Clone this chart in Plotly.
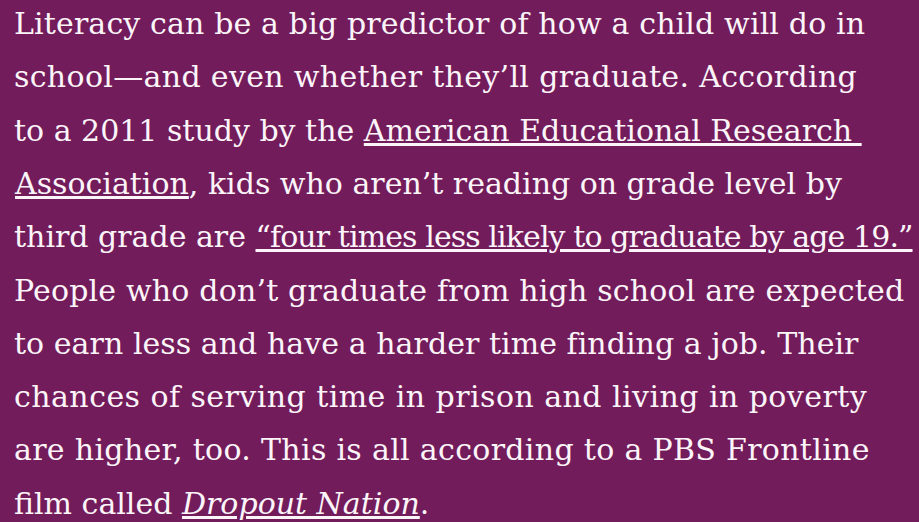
import plotly.graph_objects as go

# Paragraph text, one entry per rendered line
lines = [
    "Literacy can be a big predictor of how a child will do in",
    "school—and even whether they’ll graduate. According",
    "to a 2011 study by the <u>American Educational Research </u>",
    "<u>Association</u>, kids who aren’t reading on grade level by",
    "third grade are <span style=\"letter-spacing:-0.9px\"><u>“four times less likely to graduate by age 19.”</u></span>",
    "People who don’t graduate from high school are expected",
    "to earn less and have a harder time finding a job. Their",
    "chances of serving time in prison and living in poverty",
    "are higher, too. This is all according to a PBS Frontline",
    "film called <u><i>Dropout Nation</i></u>.",
]
# per-line tracking (px) so that line lengths follow the original typeface
line_tracking = [0.14, 0.33, 0, 0, 0, 0.18, 0.05, 0.45, 0.32, 0]

W, H = 919, 522
BG = "#731C5B"
FONT = "DejaVu Serif"
SIZE = 30
first_baseline = 42
line_step = 53.3
left = 13

fig = go.Figure()
annotations = []
for i, txt in enumerate(lines):
    baseline = first_baseline + i * line_step
    if line_tracking[i]:
        txt = '<span style="letter-spacing:%.2fpx">%s</span>' % (line_tracking[i], txt)
    annotations.append(dict(
        x=left, y=baseline, xref="x", yref="y",
        text=txt, showarrow=False,
        xanchor="left", yanchor="bottom",
        font=dict(family=FONT, size=SIZE, color="#FBF5F9"),
        borderpad=0,
    ))

fig.update_layout(
    width=W, height=H,
    margin=dict(l=0, r=0, t=0, b=0),
    paper_bgcolor=BG, plot_bgcolor=BG,
    xaxis=dict(range=[0, W], visible=False, fixedrange=True),
    yaxis=dict(range=[H, 0], visible=False, fixedrange=True),
    annotations=annotations,
    showlegend=False,
)
fig.write_html(
    "out.html",
    config={"displayModeBar": False},
    post_script="document.body.style.margin='0';document.body.style.background='" + BG + "';",
)
